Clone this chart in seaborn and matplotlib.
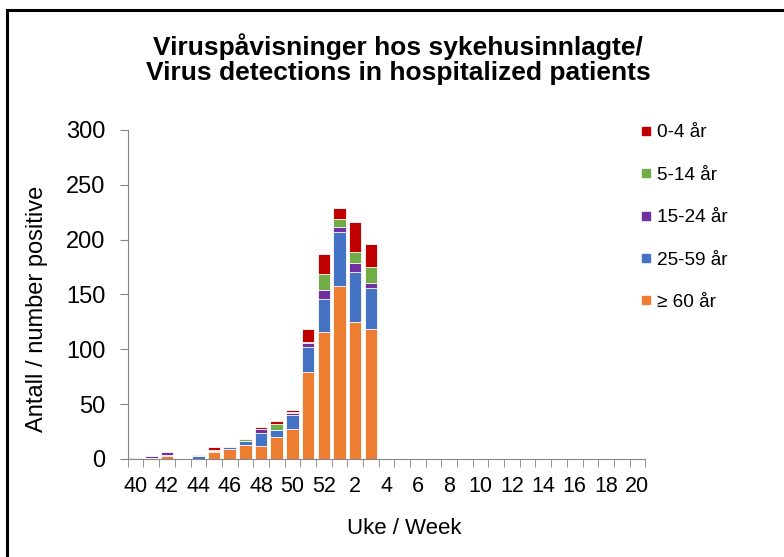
import numpy as np
import pandas as pd
import matplotlib
matplotlib.use("Agg")
import matplotlib.pyplot as plt
from matplotlib.patches import Rectangle
from matplotlib.lines import Line2D
import seaborn as sns

# weeks 40-52 then 1-20
weeks = [str(w) for w in range(40, 53)] + [str(w) for w in range(1, 21)]
age_groups = ["0-4 år", "5-14 år", "15-24 år", "25-59 år", "≥ 60 år"]
colors = ["#C00000", "#70AD47", "#7030A0", "#4472C4", "#ED7D31"]

# values, weeks 40..52, 1..3 (later weeks empty)
age_60plus = [0, 1, 3, 0, 0, 6, 9, 13, 12, 20, 27, 79, 116, 158, 125, 118]
age_25_59 = [0, 0, 1, 0, 3, 1, 2, 3, 12, 6, 13, 23, 30, 49, 45, 38]
age_15_24 = [1, 2, 2, 0, 0, 0, 0, 0, 3, 0, 2, 4, 8, 4, 9, 4]
age_5_14 = [0, 0, 0, 0, 0, 1, 0, 2, 0, 6, 1, 1, 15, 8, 10, 15]
age_0_4 = [0, 0, 0, 0, 1, 3, 0, 0, 2, 3, 2, 11, 18, 10, 27, 21]


def pad(vals):
    return vals + [0] * (len(weeks) - len(vals))


stack_order = [age_60plus, age_25_59, age_15_24, age_5_14, age_0_4]  # bottom -> top
cum = np.cumsum([pad(v) for v in stack_order], axis=0)

plt.rcParams["font.family"] = ["Liberation Sans", "DejaVu Sans"]
fig = plt.figure(figsize=(7.84, 5.57), dpi=100)
ax = fig.add_axes([0.163, 0.176, 0.66, 0.591])

# draw cumulative totals from top segment down so each layer covers the one above
for level, col in zip(range(4, -1, -1), colors):
    df = pd.DataFrame({"week": weeks, "n": cum[level]})
    sns.barplot(data=df, x="week", y="n", order=weeks, color=col, width=0.8,
                saturation=1, edgecolor="white", linewidth=0.6, ax=ax)

ax.set_xlim(-0.5, len(weeks) - 0.5)
ax.set_ylim(0, 300)
ax.set_yticks(range(0, 301, 50))
ax.tick_params(axis="y", labelsize=17, length=6, color="#868686", pad=10)

# labels every second week, tick marks on the category borders
ax.set_xticks(range(0, len(weeks), 2))
ax.set_xticklabels(weeks[::2])
ax.set_xticks(np.arange(-0.5, len(weeks), 1), minor=True)
ax.tick_params(axis="x", which="major", length=0, labelsize=15.5, pad=12)
ax.tick_params(axis="x", which="minor", length=6, color="#868686")

for side in ["top", "right"]:
    ax.spines[side].set_visible(False)
for side in ["left", "bottom"]:
    ax.spines[side].set_color("#868686")

ax.set_xlabel("Uke / Week", fontsize=16)
ax.set_ylabel("Antall / number positive", fontsize=17)
ax.xaxis.set_label_coords(0.535, -0.18)
ax.yaxis.set_label_coords(-0.155, 0.455)

fig.text(0.508, 0.894, "Viruspåvisninger hos sykehusinnlagte/\nVirus detections in hospitalized patients",
         ha="center", va="center", fontsize=19, fontweight="bold", linespacing=1.05)

handles = [Line2D([], [], marker="s", linestyle="", color=c, markersize=6) for c in colors]
fig.legend(handles, age_groups, loc="upper left", bbox_to_anchor=(0.795, 0.808),
           frameon=False, fontsize=13.7, handlelength=0.6, handletextpad=0.25,
           labelspacing=1.32)

fig.patches.append(Rectangle((7 / 784, -0.1), 1.2, 1.1 - 10 / 557, transform=fig.transFigure,
                             fill=False, edgecolor="black", linewidth=2.2))

fig.savefig("out.png", dpi=100)
